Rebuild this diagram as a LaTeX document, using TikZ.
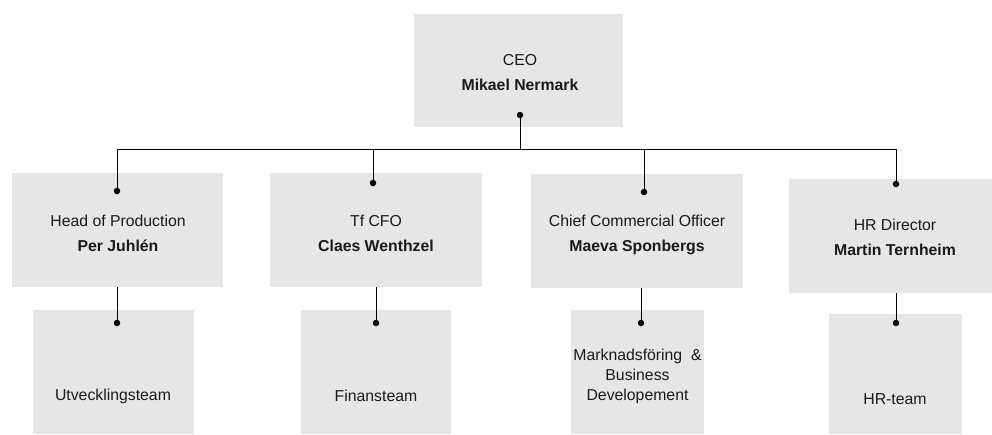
\documentclass[tikz,border=0pt]{standalone}
\usepackage{fontspec}
\setmainfont{Liberation Sans}
\definecolor{boxgrey}{HTML}{E6E6E6}
\definecolor{inkgrey}{HTML}{1A1A1A}
\tikzset{
  box/.style={fill=boxgrey, draw=none, inner sep=0pt},
  txt/.style={align=center, inner sep=0.75pt, text=inkgrey, font=\fontsize{15.8}{19}\selectfont},
  smalltxt/.style={txt, font=\fontsize{15.8}{20}\selectfont},
  dot/.style={circle, fill=black, inner sep=0pt, minimum size=6.5pt},
  link/.style={line width=1pt, black},
}

\begin{document}
\begin{tikzpicture}[x=1pt,y=1pt,yscale=-1]
\useasboundingbox (0,0) rectangle (992,434);

% Boxes
\node[box, minimum width=209pt, minimum height=113pt] (ceo) at (518.5,70.5) {};
\node[box, minimum width=211pt, minimum height=114pt] (hp) at (117.5,230) {};
\node[box, minimum width=212pt, minimum height=114pt] (cfo) at (376,230) {};
\node[box, minimum width=212pt, minimum height=114pt] (cco) at (637,231) {};
\node[box, minimum width=211pt, minimum height=114pt] (hr) at (894.5,236) {};
\node[box, minimum width=161pt, minimum height=124pt] (ut) at (113.5,372) {};
\node[box, minimum width=150pt, minimum height=124pt] (fin) at (376,372) {};
\node[box, minimum width=133pt, minimum height=124pt] (mb) at (637.5,372) {};
\node[box, minimum width=133pt, minimum height=120pt] (hrt) at (895.5,374) {};

% Text Nodes
\node[txt] (ceotxt) at (520,73) {CEO\\[6pt]\textbf{Mikael Nermark}};
\node[txt] (hptxt) at (118,233) {Head of Production\\[6pt]\textbf{Per Juhlén}};
\node[txt] (cfotxt) at (376,233) {Tf CFO\\[6pt]\textbf{Claes Wenthzel}};
\node[txt] (ccotxt) at (637,235) {Chief Commercial Officer\\[6pt]\textbf{Maeva Sponbergs}};
\node[txt] (hrtxt) at (895,237) {HR Director\\[6pt]\textbf{Martin Ternheim}};
\node[txt] (uttxt) at (113,396) {Utvecklingsteam};
\node[txt] (fintxt) at (376,396) {Finansteam};
\node[smalltxt] (mbtxt) at (637.5,376) {Marknadsföring\ \ \&\\Business\\Developement};
\node[txt] (hrttxt) at (895,399) {HR-team};

% Dots
\node[dot] (ceodot) at (520,115) {};
\node[dot] (hpdot) at (117,191) {};
\node[dot] (cfodot) at (373,183) {};
\node[dot] (ccodot) at (644,192) {};
\node[dot] (hrdot) at (896,184) {};
\node[dot] (utdot) at (117,323) {};
\node[dot] (findot) at (376,323) {};
\node[dot] (mbdot) at (641,323) {};
\node[dot] (hrtdot) at (896,323) {};

% Connectors
\coordinate (bus) at (0,149);
\draw[link] (ceodot) -- (ceodot |- bus);
\draw[link] (hpdot) -- (hpdot |- bus) -- (hrdot |- bus) -- (hrdot);
\draw[link] (cfodot) -- (cfodot |- bus);
\draw[link] (ccodot) -- (ccodot |- bus);
\draw[link] (utdot) -- (utdot |- hp.south);
\draw[link] (findot) -- (findot |- cfo.south);
\draw[link] (mbdot) -- (mbdot |- cco.south);
\draw[link] (hrtdot) -- (hrtdot |- hr.south);

\end{tikzpicture}
\end{document}
